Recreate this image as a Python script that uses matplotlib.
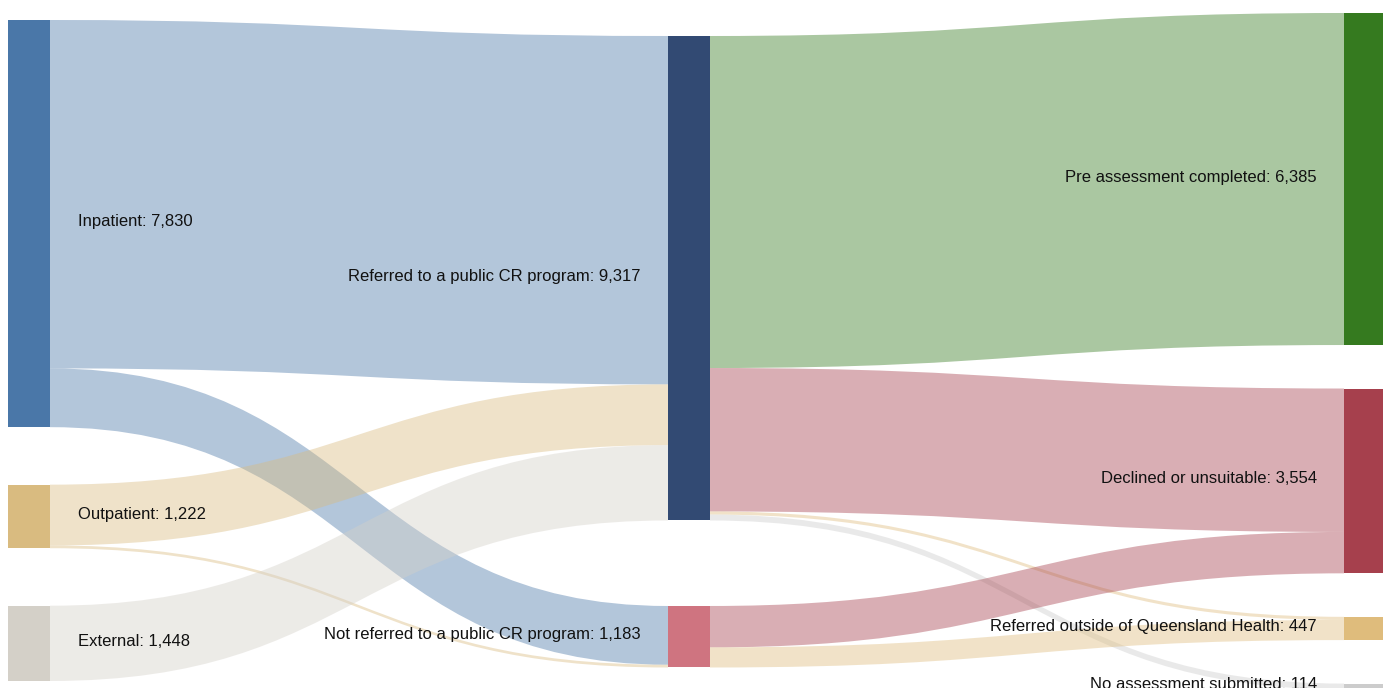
import matplotlib
matplotlib.use("Agg")
import matplotlib.pyplot as plt
from matplotlib.path import Path
from matplotlib.patches import PathPatch, Rectangle

plt.rcParams["font.family"] = ["Liberation Sans", "DejaVu Sans"]

# nodes per column, top to bottom
left_nodes = ["Inpatient", "Outpatient", "External"]
mid_nodes = ["Referred to a public CR program", "Not referred to a public CR program"]
right_nodes = ["Pre assessment completed", "Declined or unsuitable",
               "Referred outside of Queensland Health", "No assessment submitted"]

node_values = {
    "Inpatient": 7830, "Outpatient": 1222, "External": 1448,
    "Referred to a public CR program": 9317,
    "Not referred to a public CR program": 1183,
    "Pre assessment completed": 6385, "Declined or unsuitable": 3554,
    "Referred outside of Queensland Health": 447, "No assessment submitted": 114,
}

node_colors = {
    "Inpatient": "#4a77a8", "Outpatient": "#d9bb80", "External": "#d4d0c8",
    "Referred to a public CR program": "#324a73",
    "Not referred to a public CR program": "#cf7480",
    "Pre assessment completed": "#357a1f", "Declined or unsuitable": "#a6404d",
    "Referred outside of Queensland Health": "#dfbc7c",
    "No assessment submitted": "#cccccc",
}

# flows (source, target, value)
flow_src = ["Inpatient", "Inpatient", "Outpatient", "Outpatient", "External",
            "Referred to a public CR program", "Referred to a public CR program",
            "Referred to a public CR program", "Referred to a public CR program",
            "Not referred to a public CR program", "Not referred to a public CR program"]
flow_tgt = ["Referred to a public CR program", "Not referred to a public CR program",
            "Referred to a public CR program", "Not referred to a public CR program",
            "Referred to a public CR program",
            "Pre assessment completed", "Declined or unsuitable",
            "Referred outside of Queensland Health", "No assessment submitted",
            "Declined or unsuitable", "Referred outside of Queensland Health"]
flow_val = [6700, 1130, 1169, 53, 1448, 6385, 2758, 60, 114, 796, 387]

# layout (pixels)
W, H = 1383, 688
k = 0.052
node_w = 42
columns = [(left_nodes, 8, 20, 57.5), (mid_nodes, 668, 36, 85.5),
           (right_nodes, 1344, 13, 43.5)]

fig = plt.figure(figsize=(W / 100, H / 100), dpi=100)
ax = fig.add_axes([0, 0, 1, 1])
ax.set_xlim(0, W)
ax.set_ylim(H, 0)
ax.axis("off")

pos = {}
for col, (names, x, top, gap) in enumerate(columns):
    y = top
    for n in names:
        h = node_values[n] * k
        pos[n] = (x, y, h, col)
        y += h + gap

order = {n: i for names, *_ in columns for i, n in enumerate(names)}
out_off = {n: 0.0 for n in pos}
in_off = {n: 0.0 for n in pos}
flows = list(zip(flow_src, flow_tgt, flow_val))
out_sorted = sorted(range(len(flows)), key=lambda i: (flows[i][0], order[flows[i][1]]))
in_sorted = sorted(range(len(flows)), key=lambda i: (flows[i][1], order[flows[i][0]]))
src_y, tgt_y = {}, {}
for i in out_sorted:
    s, t, v = flows[i]
    src_y[i] = pos[s][1] + out_off[s]
    out_off[s] += v * k
for i in in_sorted:
    s, t, v = flows[i]
    tgt_y[i] = pos[t][1] + in_off[t]
    in_off[t] += v * k

for i, (s, t, v) in enumerate(flows):
    x0 = pos[s][0] + node_w
    x1 = pos[t][0]
    xm = (x0 + x1) / 2
    h = v * k
    y0, y1 = src_y[i], tgt_y[i]
    verts = [(x0, y0), (xm, y0), (xm, y1), (x1, y1),
             (x1, y1 + h), (xm, y1 + h), (xm, y0 + h), (x0, y0 + h), (x0, y0)]
    codes = [Path.MOVETO, Path.CURVE4, Path.CURVE4, Path.CURVE4,
             Path.LINETO, Path.CURVE4, Path.CURVE4, Path.CURVE4, Path.CLOSEPOLY]
    color = node_colors[s] if pos[s][3] == 0 else node_colors[t]
    ax.add_patch(PathPatch(Path(verts, codes), facecolor=color, edgecolor="none",
                           alpha=0.42, zorder=1))

for n, (x, y, h, col) in pos.items():
    ax.add_patch(Rectangle((x, y), node_w, h, facecolor=node_colors[n],
                           edgecolor="none", zorder=2))
    label = f"{n}: {node_values[n]:,}"
    yc = y + h / 2 - 2
    if col == 0:
        ax.text(x + node_w + 28, yc, label, ha="left", va="center",
                fontsize=12, color="#111111", zorder=3)
    else:
        ax.text(x - 27, yc, label, ha="right", va="center",
                fontsize=12, color="#111111", zorder=3)

fig.savefig("out.png", dpi=100)
